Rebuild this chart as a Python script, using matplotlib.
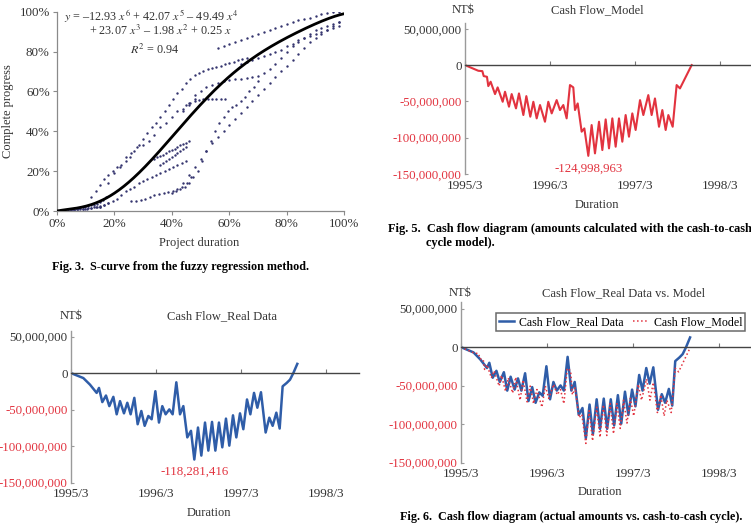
import numpy as np
import matplotlib
matplotlib.use('Agg')
import matplotlib.pyplot as plt

plt.rcParams['font.family'] = ['Liberation Serif', 'DejaVu Serif']
plt.rcParams['mathtext.fontset'] = 'stix'

# -------------------------------------------------------------------
# Fig. 3 - S-curve (dots, % of duration / % progress)
# -------------------------------------------------------------------
POLY = [-12.93, 42.07, -49.49, 23.07, -1.98, 0.25, 0.0]   # x^6 ... x^0

chains_x = [
    [1, 2, 3, 4, 5, 6, 7, 8, 9, 10, 11, 12, 13, 14, 15],
    [4, 5, 6, 7, 8, 9, 10, 11, 12, 13, 14, 15, 16, 17],
    [6, 7.5, 9, 10.5, 12, 13.5, 15, 16.5, 18],
    [12, 13.5, 15, 16.5, 18, 19.5, 21, 22.5, 24, 25.5, 27, 28.5, 30, 31.5, 33, 34.5,
     36, 37.5, 39, 40.5, 42, 43.5, 45, 46.5],
    [48, 49.5, 51, 52.5, 54, 55.5, 57, 58.5, 60, 61.5, 63, 64.5, 66],
    [56, 58, 60, 62, 64, 66, 68, 70, 72, 74, 76, 78, 80, 82, 84, 86, 88, 90, 92, 94, 96, 98],
    [64, 66, 68, 70, 72, 74, 76, 78, 80, 82, 84, 86, 88, 90, 92, 94, 96, 98],
    [44, 46, 48, 50, 52, 54, 56, 58, 60, 62, 64, 66, 68, 70, 72, 74, 76, 78, 80, 82, 84,
     86, 88, 90, 92, 94, 96, 98],
    [45, 46.5, 48, 49.5, 51, 52.5, 54, 55.5, 57, 58.5],
    [34, 35, 36, 37, 38, 39, 40, 41, 42, 43, 44, 45, 46],
    [36, 37, 38, 39, 40, 41, 42, 43, 44, 45],
    [15, 16.5, 18, 19.5, 21, 22.5, 24, 25.5, 27, 28.5, 30, 31.5, 33, 34.5, 36, 37.5, 39,
     40.5, 42, 43.5, 45],
    [26, 27.6, 29.2, 30.8, 32.4, 34, 35.6, 37.2, 38.8, 40.4, 42, 43.6, 45.2, 46.8],
    [40, 41.5, 43, 44.5, 46, 47.5, 49, 50.5, 52, 53.5, 55, 56.5, 58, 59.5, 61, 62.5, 64,
     65.5, 67, 68.5, 70],
    [44, 46, 48, 50, 52, 54, 56, 58, 60, 62, 64, 66, 68, 70, 72, 74, 76, 78, 80, 82, 84,
     86, 88, 90, 92, 94, 96, 98],
    [18, 20, 22, 24, 26, 28, 30, 32, 34, 36, 38, 40, 42, 44, 46, 48],
]
chains_y = [
    [0, 0, 0, 0.3, 0.5, 0.5, 0.8, 1, 1, 1.2, 1.5, 1.5, 1.8, 2, 2.5],
    [0, 0.5, 1, 1, 1.5, 2, 2, 2.5, 3, 3, 3.5, 4.5, 5.5, 7],
    [0.5, 0.8, 1, 1.2, 1.5, 2, 2, 3, 4],
    [7, 10, 13, 16, 18, 20, 22, 23, 25, 27, 30, 33, 36, 39, 42, 44, 47, 50, 53, 56, 59,
     61, 64, 66],
    [68, 69, 70, 71, 72, 72.5, 73, 74, 74.5, 75, 76, 76.5, 77],
    [82, 83, 84, 85, 86, 87, 88, 89, 90, 91, 92, 93, 94, 95, 96, 96.5, 97, 98, 99, 99.5,
     100, 100],
    [74, 75, 76, 77, 78, 79, 80, 81, 83, 84, 86, 87, 88, 89, 90, 91, 92, 93],
    [50, 54, 58, 60, 62, 63, 64, 65, 65.5, 66, 66, 66.5, 67, 67.5, 69, 71, 74, 77, 80, 83,
     85, 87, 89, 91, 92, 93, 94, 95],
    [53, 54, 55, 55.5, 56, 56, 56, 56, 56, 56],
    [26, 27, 27.5, 28, 29, 30, 30.5, 31, 32, 33, 33.5, 34, 35],
    [23, 24, 25, 26, 27, 28, 29, 30, 31, 32],
    [2, 3, 4, 5, 6, 8, 10, 11, 12, 14, 15, 16, 17, 18, 19, 20, 21, 22, 23, 24, 25],
    [5, 5, 5.5, 6, 7, 8, 8.5, 9, 9.5, 10, 11, 12, 14, 17],
    [9, 10, 11, 12, 14, 17, 20, 25, 30, 35, 40, 44, 47, 50, 52, 53, 55, 57, 60, 62, 65],
    [14, 18, 22, 26, 30, 34, 37, 40, 43, 46, 49, 52, 55, 58, 61, 64, 67, 70, 73, 76, 79,
     82, 85, 87, 89, 91, 93, 95],
    [14, 19, 22, 27, 29, 32, 33, 35, 38, 42, 44, 47, 50, 51, 53, 56],
]

# -------------------------------------------------------------------
# Cash flow (months after 1995/3, millions NT$), extrema
# -------------------------------------------------------------------
real_t = [0, 1.74, 2.68, 3.62, 3.95, 4.42, 4.94, 5.41, 5.98, 6.45, 6.92, 7.48, 7.95, 8.42,
          8.94, 9.41, 9.93, 10.4, 10.92, 11.39, 11.91, 12.42, 12.89, 13.36, 13.88, 14.35,
          14.87, 15.39, 15.86, 16.42, 16.94, 17.41, 17.93, 18.4, 18.92, 19.39, 19.91,
          20.38, 20.89, 21.36, 21.88, 22.35, 22.87, 23.34, 23.86, 24.33, 24.85, 25.32,
          25.84, 26.31, 26.82, 27.48, 28.0, 28.47, 28.99, 29.46, 29.88, 30.45, 30.92,
          31.39, 31.95]
real_v = [0, -6.8, -15.8, -27.1, -20.3, -39.7, -30.7, -45.2, -32.5, -56.4, -38.4, -55.1,
          -40.6, -56.4, -33.9, -70.0, -51.9, -72.2, -58.7, -63.2, -24.8, -67.7, -45.2,
          -56.4, -49.7, -56.4, -12.6, -56.4, -45.2, -88.0, -79.0, -118.281416, -74.5,
          -112.9, -67.7, -106.1, -66.8, -106.1, -67.7, -101.6, -62.3, -99.3, -57.8,
          -88.0, -55.1, -76.8, -36.1, -56.4, -27.1, -47.4, -26.2, -81.3, -61.0, -72.2,
          -54.2, -75.9, -18.1, -13.5, -9.0, 0, 12.6]

model_t = [0, 1.32, 1.88, 2.45, 2.64, 3.1, 3.29, 3.62, 4.24, 4.61, 5.32, 5.65, 6.21, 6.59,
           7.2, 7.62, 8.24, 8.66, 9.22, 9.65, 10.12, 10.59, 11.29, 11.76, 12.24, 12.94,
           13.41, 13.88, 14.35, 14.82, 15.29, 15.53, 15.91, 16.47, 16.85, 17.41, 17.88,
           18.35, 18.92, 19.39, 19.86, 20.33, 20.8, 21.27, 21.74, 22.21, 22.68, 23.15,
           23.62, 24.09, 24.71, 25.18, 25.88, 26.35, 26.82, 27.39, 27.86, 28.33, 28.71,
           29.32, 29.88, 30.35, 32.0]
model_v = [0, -5.5, -7.8, -8.3, -15.1, -16.1, -28.9, -22.9, -39.9, -30.7, -50.5, -36.7,
           -57.3, -39.9, -59.6, -39.0, -68.8, -42.7, -71.1, -50.5, -73.4, -55.0, -78.0,
           -50.5, -66.5, -48.2, -61.9, -55.0, -73.4, -27.5, -30.7, -61.9, -52.8, -91.7,
           -87.2, -124.998963, -82.6, -121.6, -78.0, -117.0, -74.8, -114.7, -73.4,
           -112.4, -73.4, -105.5, -68.8, -98.6, -66.5, -89.4, -48.2, -68.8, -41.3, -68.8,
           -45.9, -84.9, -61.9, -89.4, -68.8, -84.9, -27.5, -32.1, 0]

x_ticks = [0, 12, 24, 36]
x_labels = ['1995/3', '1996/3', '1997/3', '1998/3']
y_ticks = [50e6, 0, -50e6, -100e6, -150e6]
y_labels = ['50,000,000', '0', '-50,000,000', '-100,000,000', '-150,000,000']

BLUE = '#2f5da8'
RED = '#e2333f'
GREY_TXT = '#333333'
W, H = 751, 525
FS_LAB = 9.0      # titles, NT$, Duration
FS_TICK = 9.3
FS_CAP = 8.75
FS_EQ = 8.7


def fpos(px, py):
    return px / W, 1 - py / H


def rect(x0, y_top, x1, y_bot):
    return [x0 / W, 1 - y_bot / H, (x1 - x0) / W, (y_bot - y_top) / H]


fig = plt.figure(figsize=(W / 100, H / 100), dpi=100)

# ---------------- Fig. 3 ----------------
ax1 = fig.add_axes(rect(56.7, 11.7, 344.3, 211))
for cx, cy in zip(chains_x, chains_y):
    ax1.scatter(np.array(cx) / 100, np.array(cy) / 100, s=3, color='#35356f',
                linewidths=0, zorder=2)
xx = np.linspace(0, 1, 300)
ax1.plot(xx, np.polyval(POLY, xx), color='black', lw=2.0, zorder=3)
ax1.set_xlim(0, 1)
ax1.set_ylim(0, 1)
pct = [0, 0.2, 0.4, 0.6, 0.8, 1.0]
ax1.set_xticks(pct, [f'{int(p*100)}%' for p in pct])
ax1.set_yticks(pct, [f'{int(p*100)}%' for p in pct])
for s in ['top', 'right']:
    ax1.spines[s].set_visible(False)
for s in ['left', 'bottom']:
    ax1.spines[s].set_color('#8a8a8a')
    ax1.spines[s].set_linewidth(0.9)
ax1.tick_params(direction='out', length=3, color='#8a8a8a', labelsize=9.3,
                labelcolor=GREY_TXT, pad=2)
ax1.text(-0.169, 0.5, 'Complete progress', rotation=90, transform=ax1.transAxes,
         ha='center', va='center', fontsize=9, color=GREY_TXT)
ax1.text(0.495, -0.16, 'Project duration', transform=ax1.transAxes,
         ha='center', va='center', fontsize=9, color=GREY_TXT)
ax1.text(0.328, 0.983, r'$y$ = –12.93 $x^6$ + 42.07 $x^5$ – 49.49 $x^4$',
         transform=ax1.transAxes, ha='center', va='center', fontsize=FS_EQ,
         color=GREY_TXT)
ax1.text(0.36, 0.903, r'+ 23.07 $x^3$ – 1.98 $x^2$ + 0.25 $x$',
         transform=ax1.transAxes, ha='center', va='center', fontsize=FS_EQ,
         color=GREY_TXT)
ax1.text(0.342, 0.808, r'$R^2$ = 0.94',
         transform=ax1.transAxes, ha='center', va='center', fontsize=FS_EQ,
         color=GREY_TXT)
fig.text(*fpos(180, 267), 'Fig. 3.  S-curve from the fuzzy regression method.',
         ha='center', va='center', fontsize=FS_CAP, fontweight='bold')


def cash_axes(r, ytop):
    ax = fig.add_axes(r)
    ax.set_xlim(0, 40.7)
    ax.set_ylim(-150e6, ytop)
    ax.spines['top'].set_visible(False)
    ax.spines['right'].set_visible(False)
    ax.spines['bottom'].set_position(('data', 0))
    ax.spines['bottom'].set_color('#444444')
    ax.spines['bottom'].set_linewidth(1.0)
    ax.spines['left'].set_color('#9a9a9a')
    ax.spines['left'].set_linewidth(1.0)
    ax.set_xticks(x_ticks)
    ax.tick_params(axis='x', direction='in', length=3, color='#777777',
                   labelbottom=False)
    ax.set_yticks(y_ticks, y_labels)
    ax.tick_params(axis='y', direction='in', length=2, color='#9a9a9a',
                   labelsize=FS_TICK, pad=2.5)
    for lab, v in zip(ax.get_yticklabels(), y_ticks):
        lab.set_color(RED if v < 0 else GREY_TXT)
    sec = ax.secondary_xaxis('bottom')
    sec.set_xticks(x_ticks, x_labels)
    sec.tick_params(length=0, pad=4, labelsize=9.5, labelcolor=GREY_TXT)
    sec.spines['bottom'].set_visible(False)
    return ax


def min_label(ax, t, v):
    i = int(np.argmin(v))
    ax.annotate(f'{v[i] * 1e6:,.0f}', (t[i], v[i] * 1e6), xytext=(0, -9),
                textcoords='offset points', ha='center', va='center',
                fontsize=FS_TICK, color=RED)


# ---------------- Fig. 5 (model) ----------------
ax2 = cash_axes(rect(465, 23, 465 + 40.7 * 7.083, 174), 58e6)
ax2.plot(model_t, np.array(model_v) * 1e6, color=RED, lw=1.5, solid_joinstyle='round')
min_label(ax2, model_t, model_v)
fig.text(*fpos(463, 10), 'NT$', ha='center', va='center', fontsize=FS_LAB, color=GREY_TXT)
fig.text(*fpos(597, 10), 'Cash Flow_Model', ha='center', va='center', fontsize=FS_LAB,
         color=GREY_TXT)
fig.text(*fpos(597, 205), 'Duration', ha='center', va='center', fontsize=FS_LAB,
         color=GREY_TXT)
fig.text(*fpos(388, 229),
         'Fig. 5.  Cash flow diagram (amounts calculated with the cash-to-cash',
         ha='left', va='center', fontsize=8.9, fontweight='bold')
fig.text(*fpos(426, 243), 'cycle model).', ha='left', va='center', fontsize=8.9,
         fontweight='bold')

# ---------------- real data ----------------
ax3 = cash_axes(rect(71, 330.7, 71 + 40.7 * 7.083, 482.7), 58e6)
ax3.plot(real_t, np.array(real_v) * 1e6, color=BLUE, lw=1.8, solid_joinstyle='round')
min_label(ax3, real_t, real_v)
fig.text(*fpos(71, 316), 'NT$', ha='center', va='center', fontsize=FS_LAB, color=GREY_TXT)
fig.text(*fpos(222, 316), 'Cash Flow_Real Data', ha='center', va='center',
         fontsize=FS_LAB, color=GREY_TXT)
fig.text(*fpos(209, 513), 'Duration', ha='center', va='center', fontsize=FS_LAB,
         color=GREY_TXT)

# ---------------- Fig. 6 (real vs model) ----------------
ax4 = cash_axes(rect(461, 301.7, 461 + 40.7 * 7.17, 462.7), 59e6)
ax4.plot(real_t, np.array(real_v) * 1e6, color=BLUE, lw=1.8, solid_joinstyle='round',
         label='Cash Flow_Real Data')
ax4.plot(model_t, np.array(model_v) * 1e6, color=RED, lw=1.1, ls=':',
         label='Cash Flow_Model')
leg = ax4.legend(loc='upper right', bbox_to_anchor=(745 / W, 1 - 313 / H),
                 bbox_transform=fig.transFigure, ncol=2, fontsize=8.6, frameon=True,
                 fancybox=False, edgecolor='#444444', borderpad=0.25, borderaxespad=0,
                 handlelength=1.3, handletextpad=0.4, columnspacing=0.8)
leg.get_frame().set_linewidth(1.1)
fig.text(*fpos(460, 293), 'NT$', ha='center', va='center', fontsize=FS_LAB, color=GREY_TXT)
fig.text(*fpos(624, 293), 'Cash Flow_Real Data vs. Model', ha='center', va='center',
         fontsize=FS_LAB, color=GREY_TXT)
fig.text(*fpos(600, 492), 'Duration', ha='center', va='center', fontsize=FS_LAB,
         color=GREY_TXT)
fig.text(*fpos(400, 517),
         'Fig. 6.  Cash flow diagram (actual amounts vs. cash-to-cash cycle).',
         ha='left', va='center', fontsize=FS_CAP, fontweight='bold')

fig.savefig('out.png', dpi=100)
